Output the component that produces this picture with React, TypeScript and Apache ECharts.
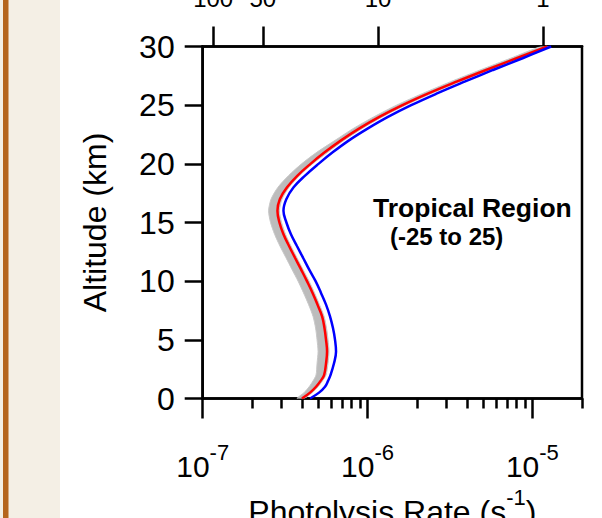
import React, { useEffect, useRef } from 'react';
import * as echarts from 'echarts';

// Altitude levels (km)
const altitudes = [0, 0.5, 1, 1.5, 2, 3, 4, 5, 6, 7, 8, 9, 10, 11, 12, 13, 14, 15, 16, 17, 18, 19, 20, 21, 22, 23, 24, 25, 26, 27, 28, 29, 30];

// Photolysis rates (s^-1)
const grayLow = [3.73e-7, 4.12e-7, 4.42e-7, 4.67e-7, 4.87e-7, 4.94e-7, 5.01e-7, 4.94e-7, 4.84e-7, 4.67e-7, 4.39e-7, 4.09e-7, 3.79e-7, 3.48e-7, 3.20e-7, 2.94e-7, 2.73e-7, 2.58e-7, 2.51e-7, 2.60e-7, 2.86e-7, 3.32e-7, 3.98e-7, 4.94e-7, 6.35e-7, 8.17e-7, 1.09e-6, 1.50e-6, 2.16e-6, 3.19e-6, 4.82e-6, 7.38e-6, 1.13e-5];
const grayHigh = [4.12e-7, 4.61e-7, 5.01e-7, 5.33e-7, 5.60e-7, 5.76e-7, 5.84e-7, 5.76e-7, 5.64e-7, 5.45e-7, 5.11e-7, 4.77e-7, 4.42e-7, 4.06e-7, 3.73e-7, 3.43e-7, 3.18e-7, 3.01e-7, 2.92e-7, 3.03e-7, 3.34e-7, 3.87e-7, 4.64e-7, 5.76e-7, 7.20e-7, 9.26e-7, 1.23e-6, 1.70e-6, 2.45e-6, 3.62e-6, 5.46e-6, 8.36e-6, 1.28e-5];
const redRates = [4.00e-7, 4.48e-7, 4.87e-7, 5.19e-7, 5.45e-7, 5.60e-7, 5.68e-7, 5.60e-7, 5.48e-7, 5.30e-7, 4.97e-7, 4.64e-7, 4.29e-7, 3.95e-7, 3.63e-7, 3.34e-7, 3.09e-7, 2.92e-7, 2.84e-7, 2.94e-7, 3.25e-7, 3.76e-7, 4.51e-7, 5.52e-7, 6.91e-7, 8.88e-7, 1.18e-6, 1.63e-6, 2.34e-6, 3.47e-6, 5.24e-6, 8.02e-6, 1.23e-5];
const blueRates = [4.48e-7, 5.08e-7, 5.52e-7, 5.76e-7, 5.96e-7, 6.26e-7, 6.44e-7, 6.35e-7, 6.17e-7, 5.92e-7, 5.60e-7, 5.22e-7, 4.84e-7, 4.42e-7, 4.06e-7, 3.73e-7, 3.43e-7, 3.22e-7, 3.09e-7, 3.22e-7, 3.56e-7, 4.18e-7, 5.04e-7, 6.17e-7, 7.72e-7, 1.00e-6, 1.33e-6, 1.84e-6, 2.64e-6, 3.88e-6, 5.77e-6, 8.72e-6, 1.30e-5];

// Axis ticks
const rateMin = 1e-7;
const rateMax = 2e-5;
const bottomMajorTicks = [1e-7, 1e-6, 1e-5];
const bottomMinorTicks = [2e-7, 3e-7, 4e-7, 5e-7, 6e-7, 7e-7, 8e-7, 9e-7, 2e-6, 3e-6, 4e-6, 5e-6, 6e-6, 7e-6, 8e-6, 9e-6, 2e-5];
const topTickDays = [100, 50, 10, 1];
const SECONDS_PER_DAY = 86400;

const FONT = '"Liberation Sans", Arial, Helvetica, sans-serif';

export default function App() {
  const ref = useRef<HTMLDivElement>(null);

  useEffect(() => {
    if (!ref.current) return;
    const chart = echarts.init(ref.current, null, { renderer: 'svg' });
    const toPairs = (rates: number[]) => altitudes.map((a, i) => [rates[i], a]);
    const axisLineStyle = { color: '#000', width: 2.5 };

    chart.setOption({
      animation: false,
      backgroundColor: '#ffffff',
      grid: {
        left: 202.7,
        top: 46.5,
        width: 379.3,
        height: 352,
        show: true,
        borderColor: '#000',
        borderWidth: 2.5,
        backgroundColor: 'transparent',
        containLabel: false,
        outerBoundsMode: 'none',
      },
      xAxis: [
        {
          type: 'log',
          logBase: 10,
          min: rateMin,
          max: rateMax,
          position: 'bottom',
          axisLine: { show: true, lineStyle: axisLineStyle },
          axisTick: { show: true, length: 20, lineStyle: axisLineStyle, customValues: bottomMajorTicks },
          minorTick: { show: false },
          splitLine: { show: false },
          axisLabel: {
            customValues: bottomMajorTicks,
            margin: 43,
            formatter: (v: number) => `{b|10}{s|${Math.round(Math.log10(v))}}`,
            rich: {
              b: { fontSize: 30, lineHeight: 50, fontFamily: FONT, color: '#000' },
              s: { fontSize: 22, lineHeight: 22, fontFamily: FONT, color: '#000', verticalAlign: 'top' },
            },
          },
          name: 'Photolysis Rate (s{s|-1})',
          nameLocation: 'middle',
          nameGap: 88,
          nameMoveOverlap: false,
          nameTextStyle: {
            fontSize: 32,
            lineHeight: 51,
            fontFamily: FONT,
            color: '#000',
            rich: {
              s: { fontSize: 22, lineHeight: 22, fontFamily: FONT, color: '#000', verticalAlign: 'top' },
            },
          },
        },
        {
          type: 'log',
          logBase: 10,
          inverse: true,
          min: 1 / (rateMax * SECONDS_PER_DAY),
          max: 1 / (rateMin * SECONDS_PER_DAY),
          position: 'top',
          axisLine: { show: true, lineStyle: axisLineStyle },
          axisTick: { show: true, length: 20, lineStyle: axisLineStyle, customValues: topTickDays },
          minorTick: { show: false },
          splitLine: { show: false },
          axisLabel: {
            customValues: topTickDays,
            margin: 36,
            fontSize: 24,
            lineHeight: 24,
            fontFamily: FONT,
            color: '#000',
            formatter: (v: number) => String(Math.round(v)),
          },
        },
        {
          type: 'log',
          logBase: 10,
          min: rateMin,
          max: rateMax,
          position: 'bottom',
          axisLine: { show: false },
          axisTick: { show: true, length: 10, lineStyle: axisLineStyle, customValues: bottomMinorTicks },
          minorTick: { show: false },
          splitLine: { show: false },
          axisLabel: { show: false },
        },
      ],
      yAxis: {
        type: 'value',
        min: 0,
        max: 30,
        interval: 5,
        axisLine: { show: true, lineStyle: axisLineStyle },
        axisTick: { show: true, length: 18, lineStyle: axisLineStyle },
        splitLine: { show: false },
        axisLabel: { fontSize: 32, margin: 28, fontFamily: FONT, color: '#000' },
        name: 'Altitude (km)',
        nameLocation: 'middle',
        nameGap: 92,
        nameMoveOverlap: false,
        nameTextStyle: { fontSize: 32, fontFamily: FONT, color: '#000' },
      },
      graphic: [
        { type: 'rect', z: -10, shape: { x: 0, y: 0, width: 60, height: 518 }, style: { fill: '#f4efe5' } },
        { type: 'rect', z: -9, shape: { x: 3, y: 0, width: 5.5, height: 518 }, style: { fill: '#b5651d' } },
        {
          type: 'text',
          x: 373,
          y: 208,
          style: { text: 'Tropical Region', font: `bold 26.5px ${FONT}`, fill: '#000', align: 'left', verticalAlign: 'middle' },
        },
        {
          type: 'text',
          x: 390,
          y: 236,
          style: { text: '(-25 to 25)', font: `bold 24px ${FONT}`, fill: '#000', align: 'left', verticalAlign: 'middle' },
        },
      ],
      series: [
        {
          name: 'range',
          type: 'custom',
          xAxisIndex: 0,
          yAxisIndex: 0,
          data: [[grayLow[0], altitudes[0]]],
          clip: true,
          z: 2,
          renderItem: (params: any, api: any) => {
            const left = altitudes.map((a, i) => api.coord([grayLow[i], a]));
            const right = altitudes.map((a, i) => api.coord([grayHigh[i], a])).reverse();
            return {
              type: 'polygon',
              shape: { points: left.concat(right), smooth: 0.25 },
              style: { fill: '#bcbcbc', stroke: '#c8c8c8', lineWidth: 1 },
            };
          },
        },
        {
          name: 'red',
          type: 'line',
          xAxisIndex: 0,
          yAxisIndex: 0,
          data: toPairs(redRates),
          showSymbol: false,
          smooth: 0.4,
          lineStyle: { color: '#ff0000', width: 2.5 },
          z: 3,
        },
        {
          name: 'blue',
          type: 'line',
          xAxisIndex: 0,
          yAxisIndex: 0,
          data: toPairs(blueRates),
          showSymbol: false,
          smooth: 0.4,
          lineStyle: { color: '#0000ff', width: 2.5 },
          z: 4,
        },
      ],
    });

    return () => chart.dispose();
  }, []);

  return <div ref={ref} style={{ position: 'absolute', left: 0, top: 0, width: 602, height: 518 }} />;
}
